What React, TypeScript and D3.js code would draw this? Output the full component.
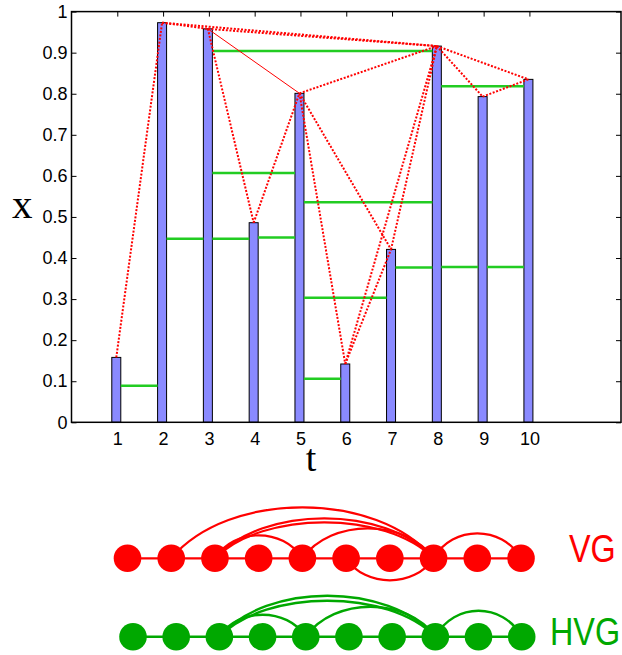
import React, { useEffect, useRef } from 'react';
import * as d3 from 'd3';

// time series
const tValues = [1, 2, 3, 4, 5, 6, 7, 8, 9, 10];
const xValues = [0.158, 0.973, 0.958, 0.486, 0.801, 0.142, 0.421, 0.916, 0.793, 0.835];

const yTickValues = [0, 0.1, 0.2, 0.3, 0.4, 0.5, 0.6, 0.7, 0.8, 0.9, 1];
const yTickLabels = ['0', '0.1', '0.2', '0.3', '0.4', '0.5', '0.6', '0.7', '0.8', '0.9', '1'];

// natural visibility links between bar tops (dotted)
const vgLinks: [number, number][] = [
  [1, 2], [2, 3], [2, 8], [3, 4], [3, 8], [4, 5], [5, 6], [5, 7], [5, 8],
  [6, 7], [6, 8], [7, 8], [8, 9], [8, 10], [9, 10],
];
const vgSolidLinks: [number, number][] = [[3, 5]];

// horizontal visibility segments: [from, to, level]
const hvgSegments: [number, number, number][] = [
  [1, 2, 0.089], [2, 3, 0.447], [3, 4, 0.447], [4, 5, 0.45], [3, 5, 0.607],
  [3, 8, 0.904], [5, 6, 0.106], [5, 7, 0.303], [5, 8, 0.536], [7, 8, 0.377],
  [8, 9, 0.378], [9, 10, 0.378], [8, 10, 0.818],
];

// graph arcs: [from, to, height in px], negative = below
const vgArcs: [number, number, number][] = [
  [2, 8, 51], [3, 8, 40], [3, 8, 36], [3, 5, 23], [5, 8, 30], [8, 10, 25], [6, 8, -22],
];
const hvgArcs: [number, number, number][] = [
  [3, 8, 41], [3, 8, 36], [3, 5, 22], [5, 8, 30], [8, 10, 26],
];

const VG_RED = '#ff0000';
const HVG_GREEN = '#00a800';

const App = () => {
  const svgRef = useRef<SVGSVGElement>(null);

  useEffect(() => {
    const svg = d3.select(svgRef.current);
    svg.selectAll('*').remove();

    const left = 71.5, right = 621, top = 11.6, bottom = 422.3;
    const x = d3.scaleLinear().domain([0, 12]).range([left, right]);
    const y = d3.scaleLinear().domain([0, 1]).range([bottom, top]);
    const barW = 9;
    const cx = (t: number) => x(t) - 1;
    const val = (t: number) => xValues[tValues.indexOf(t)];

    const sans = '"Liberation Sans", Arial, Helvetica, sans-serif';
    const serif = '"Liberation Serif", "Times New Roman", serif';

    const styleAxis = (g: any) => {
      g.attr('font-family', sans).attr('font-size', 18);
      g.select('.domain').remove();
      g.selectAll('line').attr('stroke', '#000').attr('stroke-width', 1);
    };

    // axes with inward ticks
    svg.append('g')
      .attr('transform', `translate(${left},0)`)
      .call(d3.axisLeft(y).tickValues(yTickValues)
        .tickFormat((d, i) => yTickLabels[i]).tickSize(-5).tickPadding(4))
      .call(styleAxis);
    svg.append('g')
      .attr('transform', `translate(${right},0)`)
      .call(d3.axisRight(y).tickValues(yTickValues).tickFormat(() => '').tickSize(-5))
      .call(styleAxis);
    svg.append('g')
      .attr('transform', `translate(0,${bottom})`)
      .call(d3.axisBottom(x).tickValues(tValues).tickFormat(d3.format('d')).tickSize(-5).tickPadding(10))
      .call(styleAxis);
    svg.append('g')
      .attr('transform', `translate(0,${top})`)
      .call(d3.axisTop(x).tickValues(tValues).tickFormat(() => '').tickSize(-5))
      .call(styleAxis);

    // bars
    svg.append('g').selectAll('rect')
      .data(tValues)
      .enter()
      .append('rect')
      .attr('x', d => cx(d) - barW / 2)
      .attr('y', d => y(val(d)))
      .attr('width', barW)
      .attr('height', d => bottom - y(val(d)))
      .attr('fill', '#8a8aff')
      .attr('stroke', '#000')
      .attr('stroke-width', 1);

    // horizontal visibility segments
    svg.append('g').selectAll('line')
      .data(hvgSegments)
      .enter()
      .append('line')
      .attr('x1', d => cx(d[0]) + barW / 2)
      .attr('x2', d => cx(d[1]) - barW / 2)
      .attr('y1', d => y(d[2]))
      .attr('y2', d => y(d[2]))
      .attr('stroke', '#22cc22')
      .attr('stroke-width', 2.5);

    // visibility links
    svg.append('g').selectAll('line')
      .data(vgLinks)
      .enter()
      .append('line')
      .attr('x1', d => cx(d[0]))
      .attr('y1', d => y(val(d[0])))
      .attr('x2', d => cx(d[1]))
      .attr('y2', d => y(val(d[1])))
      .attr('stroke', VG_RED)
      .attr('stroke-width', 2)
      .attr('stroke-dasharray', '2,1.6');
    svg.append('g').selectAll('line')
      .data(vgSolidLinks)
      .enter()
      .append('line')
      .attr('x1', d => cx(d[0]))
      .attr('y1', d => y(val(d[0])))
      .attr('x2', d => cx(d[1]))
      .attr('y2', d => y(val(d[1])))
      .attr('stroke', VG_RED)
      .attr('stroke-width', 1);

    // frame
    svg.append('rect')
      .attr('x', left).attr('y', top)
      .attr('width', right - left).attr('height', bottom - top)
      .attr('fill', 'none').attr('stroke', '#000').attr('stroke-width', 1.5);

    // axis titles
    svg.append('text').attr('x', 12).attr('y', 217.5)
      .attr('font-family', serif).attr('font-size', 41).text('x');
    svg.append('text').attr('x', 311).attr('y', 471).attr('text-anchor', 'middle')
      .attr('font-family', serif).attr('font-size', 38).text('t');

    // graphs
    const drawGraph = (
      arcs: [number, number, number][], color: string, cy: number,
      range: [number, number], r: number, lineW: number,
      label: string, labelX: number, labelBase: number,
    ) => {
      const nx = d3.scaleLinear().domain([1, 10]).range(range);
      const g = svg.append('g');
      g.selectAll('line.adj')
        .data(tValues.slice(0, -1))
        .enter()
        .append('line')
        .attr('x1', d => nx(d)).attr('x2', d => nx(d + 1))
        .attr('y1', cy).attr('y2', cy)
        .attr('stroke', color).attr('stroke-width', lineW);
      g.selectAll('path')
        .data(arcs)
        .enter()
        .append('path')
        .attr('d', d => {
          const x1 = nx(d[0]), x2 = nx(d[1]);
          const dx = x2 - x1;
          const ch = cy - d[2] / 0.75;
          return `M${x1},${cy} C${x1 + dx * 0.22},${ch} ${x2 - dx * 0.22},${ch} ${x2},${cy}`;
        })
        .attr('fill', 'none').attr('stroke', color).attr('stroke-width', lineW);
      g.selectAll('circle')
        .data(tValues)
        .enter()
        .append('circle')
        .attr('cx', d => nx(d)).attr('cy', cy).attr('r', r)
        .attr('fill', color);
      g.append('text')
        .attr('transform', `translate(${labelX},${labelBase}) scale(0.83,1)`)
        .attr('font-family', sans).attr('font-size', 39)
        .attr('fill', color).text(label);
    };

    drawGraph(vgArcs, VG_RED, 558.3, [127.5, 521], 13.8, 2.2, 'VG', 569, 561.7);
    drawGraph(hvgArcs, HVG_GREEN, 636.7, [133, 521.7], 13.8, 2.4, 'HVG', 550, 645);
  }, []);

  return (
    <div style={{ position: 'absolute', left: 0, top: 0 }}>
      <svg ref={svgRef} width={622} height={655} style={{ display: 'block', background: '#fff' }}></svg>
    </div>
  );
};

export default App;
